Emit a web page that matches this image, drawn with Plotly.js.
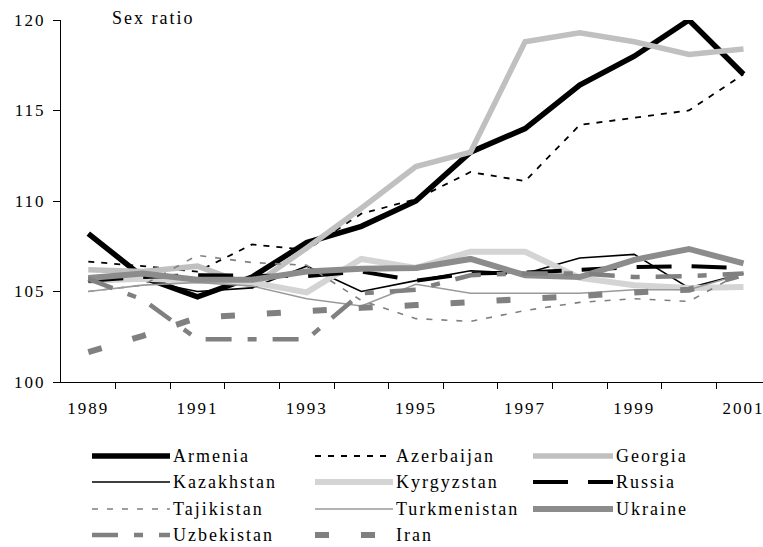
<!DOCTYPE html>
<html>
<head>
<meta charset="utf-8">
<script src="https://cdn.plot.ly/plotly-3.0.1.min.js"></script>
<style>
  html, body { margin: 0; padding: 0; background: #fff; overflow: hidden; }
  #chart { width: 763px; height: 547px; }
  svg text { letter-spacing: 2px; }
</style>
</head>
<body>
<div id="chart"></div>
<script>
// ---- data ----
const years = [1989, 1990, 1991, 1992, 1993, 1994, 1995, 1996, 1997, 1998, 1999, 2000, 2001];
const xTickLabels = ['1989', '1991', '1993', '1995', '1997', '1999', '2001'];
const yTickValues = [100, 105, 110, 115, 120];

const armenia      = [108.2, 105.8, 104.7, 105.8, 107.7, 108.6, 110.0, 112.7, 114.0, 116.4, 118.0, 120.0, 117.0];
const azerbaijan   = [106.65, 106.4, 106.1, 107.6, 107.3, 109.3, 110.1, 111.6, 111.1, 114.2, 114.6, 115.0, 117.0];
const georgia      = [106.2, 106.1, 106.4, 105.3, 107.4, 109.6, 111.9, 112.7, 118.8, 119.3, 118.8, 118.1, 118.4];
const kazakhstan   = [105.8, 105.6, 105.0, 105.2, 106.4, 105.0, 105.6, 106.15, 106.0, 106.85, 107.05, 105.2, 106.0];
const kyrgyzstan   = [105.6, 105.7, 105.6, 105.5, 104.95, 106.8, 106.3, 107.2, 107.2, 105.75, 105.35, 105.2, 105.25];
const russia       = [105.6, 105.8, 105.9, 105.9, 105.85, 106.1, 105.6, 106.0, 106.05, 106.2, 106.35, 106.4, 106.3];
const tajikistan   = [105.0, 105.35, 107.0, 106.6, 106.45, 104.5, 103.5, 103.35, 103.95, 104.4, 104.6, 104.45, 106.1];
const turkmenistan = [105.0, 105.35, 105.5, 105.3, 104.6, 104.2, 105.4, 104.9, 104.9, 104.9, 105.1, 105.1, 106.0];
const ukraine      = [105.75, 106.0, 105.65, 105.65, 106.1, 106.25, 106.3, 106.8, 105.9, 105.8, 106.75, 107.35, 106.55];
const uzbekistan   = [105.7, 104.55, 102.36, 102.36, 102.36, 104.9, 105.1, 105.9, 106.0, 106.0, 105.8, 105.85, 106.0];
const iran         = [101.65, 102.55, 103.55, 103.75, 103.95, 104.1, 104.25, 104.4, 104.55, 104.75, 104.95, 105.1, 105.95];

const seriesNames = ['Armenia', 'Azerbaijan', 'Georgia', 'Kazakhstan', 'Kyrgyzstan', 'Russia',
                     'Tajikistan', 'Turkmenistan', 'Ukraine', 'Uzbekistan', 'Iran'];
const seriesValues = [armenia, azerbaijan, georgia, kazakhstan, kyrgyzstan, russia,
                      tajikistan, turkmenistan, ukraine, uzbekistan, iran];

// ---- styles ----
const lineStyles = [
  {color: '#000000', width: 5.5, dash: 'solid'},
  {color: '#000000', width: 1.8, dash: '6px,7px'},
  {color: '#c0c0c0', width: 5.5, dash: 'solid'},
  {color: '#000000', width: 1.6, dash: 'solid'},
  {color: '#d4d4d4', width: 6,   dash: 'solid'},
  {color: '#000000', width: 4,   dash: '35px,20px'},
  {color: '#808080', width: 1.6, dash: '6px,9px'},
  {color: '#9a9a9a', width: 1.6, dash: 'solid'},
  {color: '#8c8c8c', width: 6,   dash: 'solid'},
  {color: '#808080', width: 4.5, dash: '26px,16px,9px,16px'},
  {color: '#808080', width: 6,   dash: '14px,32px'}
];

const FONT = '"Liberation Serif", "Times New Roman", serif';

const traces = seriesNames.map((name, i) => ({
  type: 'scatter',
  mode: 'lines',
  name: name,
  x: years,
  y: seriesValues[i],
  line: {color: lineStyles[i].color, width: lineStyles[i].width, dash: lineStyles[i].dash},
  showlegend: false,
  hoverinfo: 'skip'
}));

// ---- layout geometry ----
const W = 763, H = 547;
const M = {l: 61, r: 0, t: 20, b: 165};
const plotW = W - M.l - M.r, plotH = H - M.t - M.b;
const px2paperX = px => (px - M.l) / plotW;
const px2paperY = py => (H - M.b - py) / plotH;

// custom legend (3 columns)
const legCols = [{x0: 92, x1: 170}, {x0: 315, x1: 393}, {x0: 533, x1: 613}];
const legRows = [456, 482, 509, 535];
const shapes = [];
const annotations = [];
seriesNames.forEach((name, i) => {
  const c = legCols[i % 3], r = legRows[Math.floor(i / 3)];
  const st = lineStyles[i];
  shapes.push({
    type: 'line', xref: 'paper', yref: 'paper',
    x0: px2paperX(c.x0), x1: px2paperX(c.x1),
    y0: px2paperY(r), y1: px2paperY(r),
    line: {color: st.color, width: Math.min(st.width, 6), dash: st.dash}
  });
  annotations.push({
    xref: 'paper', yref: 'paper',
    x: px2paperX(c.x1 + 1), y: px2paperY(r),
    xanchor: 'left', yanchor: 'middle',
    text: name, showarrow: false,
    font: {family: FONT, size: 18, color: '#000'}
  });
});
annotations.push({
  xref: 'paper', yref: 'paper',
  x: px2paperX(110), y: px2paperY(18),
  xanchor: 'left', yanchor: 'middle',
  text: 'Sex ratio', showarrow: false,
  font: {family: FONT, size: 18, color: '#000'}
});

const layout = {
  width: W, height: H,
  margin: M,
  paper_bgcolor: '#ffffff',
  plot_bgcolor: '#ffffff',
  showlegend: false,
  font: {family: FONT, size: 17, color: '#000'},
  xaxis: {
    type: 'linear',
    range: [1988.5, 1988.5 + plotW / 54.6],
    tickmode: 'array',
    tickvals: xTickLabels.map(Number),
    ticktext: xTickLabels,
    ticks: '',
    ticklabelstandoff: 11,
    ticklabeloverflow: 'allow',
    showgrid: false, zeroline: false,
    showline: true, linecolor: '#000', linewidth: 1,
    tickfont: {family: FONT, size: 17, color: '#000'},
    minor: {
      tickmode: 'array',
      tickvals: years.slice(0, -1).map(y => y + 0.5),
      ticks: 'outside', ticklen: 6, tickwidth: 1, tickcolor: '#000',
      showgrid: false
    },
    fixedrange: true
  },
  yaxis: {
    range: [100, 120],
    tickmode: 'array',
    tickvals: yTickValues,
    ticks: 'outside', ticklen: 7, tickwidth: 1, tickcolor: '#000',
    ticklabelstandoff: 4,
    showgrid: false, zeroline: false,
    showline: true, linecolor: '#000', linewidth: 1,
    tickfont: {family: FONT, size: 17, color: '#000'},
    fixedrange: true
  },
  shapes: shapes,
  annotations: annotations
};

Plotly.newPlot('chart', traces, layout, {displayModeBar: false, staticPlot: true});
</script>
</body>
</html>
